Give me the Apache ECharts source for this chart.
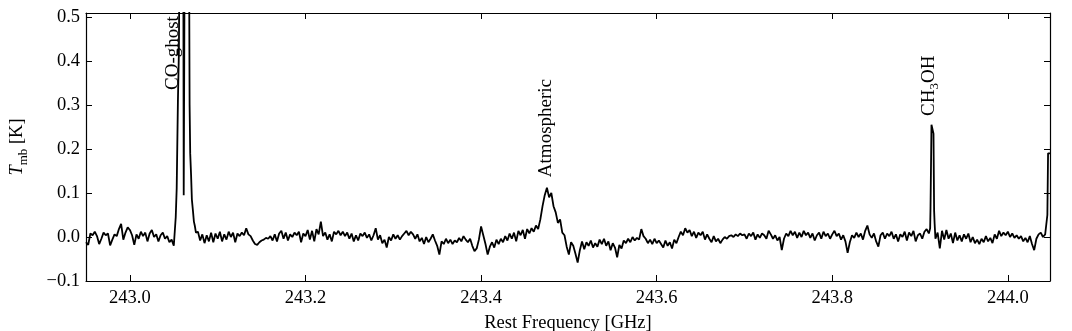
<!DOCTYPE html>
<html><head><meta charset="utf-8">
<script src="https://cdn.jsdelivr.net/npm/echarts@6/dist/echarts.min.js"></script>
<style>html,body{margin:0;padding:0;background:#fff}#c{width:1072px;height:331px}</style>
</head><body><div id="c"></div>
<script>
// Spectrum sampled on a regular channel grid (GHz, K)
const gridStart = 242.95;
const chanWidth = 0.0025;
const tmbGrid = [
-0.012,-0.018,0.008,0.004,0.012,0.002,-0.016,-0.004,0.010,0.004,
0.008,-0.019,-0.006,0.006,0.002,0.018,0.030,-0.006,0.010,0.022,
0.016,0.004,-0.018,0.006,-0.004,0.012,0.002,0.010,-0.010,0.008,
0.016,0.000,0.006,-0.010,0.004,0.010,-0.004,0.002,-0.012,-0.006,
-0.020,0.060,0.320,1.000,0.600,0.500,1.000,0.400,0.090,0.050,
0.020,0.012,-0.008,0.006,-0.014,0.004,-0.010,0.010,-0.012,0.008,
-0.004,0.012,-0.010,0.006,-0.006,0.012,0.000,0.010,-0.012,0.008,
0.002,0.010,0.004,0.020,0.006,0.002,-0.008,-0.016,-0.018,-0.012,
-0.008,-0.006,-0.002,-0.004,0.002,-0.008,0.006,-0.010,0.008,0.014,
-0.004,0.010,-0.008,0.006,0.000,0.010,0.004,0.012,-0.012,0.008,
0.002,0.016,-0.006,0.014,-0.010,0.018,0.006,0.035,0.002,0.010,
-0.006,0.006,-0.010,0.012,0.006,0.014,0.004,0.012,0.002,0.010,
-0.004,0.008,-0.010,0.004,-0.008,0.008,0.002,0.010,-0.002,0.006,
-0.008,0.004,0.020,-0.006,0.004,-0.014,-0.006,-0.024,0.000,-0.008,
0.006,-0.004,0.004,-0.006,0.002,0.008,0.014,0.004,0.012,0.006,
-0.004,0.006,-0.010,-0.002,-0.016,0.000,-0.012,-0.004,0.006,-0.008,
-0.020,-0.040,-0.010,-0.016,-0.004,-0.014,-0.006,-0.016,-0.008,-0.012,
-0.002,-0.010,0.002,-0.006,-0.012,-0.004,-0.020,-0.032,-0.026,-0.006,
0.024,0.004,-0.016,-0.040,-0.022,-0.012,-0.024,-0.006,-0.016,-0.004,
-0.012,0.002,-0.008,0.008,-0.004,0.010,-0.010,0.014,0.004,0.016,
-0.004,0.018,0.008,0.020,0.012,0.026,0.018,0.040,0.070,0.095,
0.112,0.090,0.100,0.070,0.056,0.032,0.040,0.010,0.004,-0.022,
-0.040,-0.012,-0.020,-0.038,-0.058,-0.030,-0.010,-0.028,-0.012,-0.020,
-0.008,-0.024,-0.014,-0.022,-0.006,-0.016,-0.004,-0.020,-0.010,-0.030,
-0.014,-0.024,-0.046,-0.018,-0.026,-0.008,-0.014,-0.004,-0.012,0.000,
-0.008,-0.002,-0.006,0.018,0.002,-0.004,-0.014,-0.006,-0.016,-0.004,
-0.014,-0.008,-0.016,-0.024,-0.008,-0.020,-0.012,-0.026,-0.006,-0.014,
0.000,0.012,0.004,0.020,0.010,0.016,0.002,0.012,-0.002,0.010,
0.004,0.012,-0.006,0.006,-0.004,-0.012,0.002,-0.010,-0.004,-0.014,
-0.006,0.000,-0.004,0.002,0.004,0.000,0.006,0.002,0.008,0.004,
0.006,-0.004,0.008,0.002,0.010,-0.006,0.006,-0.002,0.008,0.004,
-0.004,0.014,0.006,-0.004,0.004,-0.008,0.000,-0.030,-0.004,0.008,
0.002,0.014,0.004,0.012,-0.002,0.010,0.000,0.014,0.004,0.010,
-0.002,0.008,-0.008,0.004,0.010,-0.004,0.012,0.002,0.008,-0.004,
0.006,0.014,0.002,0.008,-0.006,0.004,-0.010,-0.036,-0.012,0.004,
-0.002,0.010,0.000,0.008,-0.006,0.014,0.026,0.006,-0.002,0.008,
-0.010,-0.022,0.004,0.010,-0.004,0.008,0.002,0.012,-0.004,0.006,
-0.010,0.006,0.000,0.012,-0.008,0.010,0.002,0.014,-0.010,0.004,
0.008,-0.004,0.012,0.018,0.008,0.250,0.220,-0.004,0.010,-0.026,
0.014,-0.006,0.016,-0.004,0.008,-0.014,0.010,-0.008,0.004,-0.010,
0.006,-0.004,0.008,-0.012,0.000,-0.014,-0.006,-0.016,-0.004,-0.012,
0.002,-0.010,-0.002,-0.014,0.006,-0.004,0.014,0.002,0.010,0.004,
0.012,0.000,0.008,-0.002,0.004,-0.004,0.002,-0.010,-0.002,-0.012,
0.002,-0.016,-0.030,-0.004,0.006,0.010,0.000,0.006
];
// Finer samples across the narrow features
const coFreq = [243.0513,243.0522,243.0533,243.0547,243.0558,243.0569,243.0582,243.0597,243.0608,243.0613,243.0619,243.0628,243.0643,243.0660,243.0673,243.0680,243.0687,243.0697,243.0706,243.0718,243.0729,243.0740,243.0752];
const coTmb  = [-0.018,0.045,0.11,0.31,0.42,0.80,1.10,1.00,0.70,0.095,0.40,0.95,1.10,1.00,0.70,0.30,0.19,0.14,0.085,0.060,0.035,0.025,0.010];
const ch3ohFreq = [243.9115,243.9119,243.9130,243.9140,243.9153,243.9160,243.9166];
const ch3ohTmb  = [0.020,0.065,0.255,0.252,0.235,0.060,0.030];
const edgeFreq = [244.0444,244.0450,244.0458,244.0480];
const edgeTmb  = [0.004,0.050,0.190,0.190];

const xTicks = [243.0,243.2,243.4,243.6,243.8,244.0];
const yTicks = [-0.1,0.0,0.1,0.2,0.3,0.4,0.5];
const lineLabels = [
  {rich:'CO-ghost', freq:243.049, tmb:0.334},
  {rich:'Atmospheric', freq:243.474, tmb:0.136},
  {rich:'{a|CH}{s|3}{a|OH}', freq:243.910, tmb:0.275}
];

const FONT = 'Liberation Serif';
const FS = 18.5;
const segments = [[coFreq,coTmb],[ch3ohFreq,ch3ohTmb],[edgeFreq,edgeTmb]];
let pts = [];
tmbGrid.forEach((v,i)=>{
  const f = gridStart + i*chanWidth;
  const inside = segments.some(([fs])=> f >= fs[0]-1e-9 && f <= fs[fs.length-1]+1e-9);
  if(!inside) pts.push([f,v]);
});
segments.forEach(([fs,ts])=>fs.forEach((f,k)=>pts.push([f,ts[k]])));
pts.sort((a,b)=>a[0]-b[0]);

const fmt = v => (v < -1e-9 ? '\u2212' : '') + Math.abs(v).toFixed(1);
const axisCommon = {
  axisLine:{show:true,onZero:false,lineStyle:{color:'#000',width:1.2}},
  splitLine:{show:false},
};
const chart = echarts.init(document.getElementById('c'));
const xMin = 242.95, xMax = 244.048, yMin = -0.1, yMax = 0.509;
chart.setOption({
  animation:false,
  grid:{left:86,right:22,top:13,bottom:50,containLabel:false,outerBoundsMode:'none'},
  xAxis:[
    Object.assign({type:'value',position:'bottom',min:xMin,max:xMax,
      axisTick:{show:true,inside:true,length:6,customValues:xTicks,lineStyle:{color:'#000'}},
      axisLabel:{show:true,customValues:xTicks,formatter:fmt,color:'#000',fontFamily:FONT,fontSize:FS,margin:8},
      name:'Rest Frequency [GHz]',nameLocation:'middle',nameGap:33,
      nameTextStyle:{color:'#000',fontFamily:FONT,fontSize:FS}},axisCommon),
    Object.assign({type:'value',position:'top',min:xMin,max:xMax,
      axisTick:{show:true,inside:true,length:6,customValues:xTicks,lineStyle:{color:'#000'}},
      axisLabel:{show:false}},axisCommon)
  ],
  yAxis:[
    Object.assign({type:'value',position:'left',min:yMin,max:yMax,
      axisTick:{show:true,inside:true,length:6,customValues:yTicks,lineStyle:{color:'#000'}},
      axisLabel:{show:true,customValues:yTicks,formatter:fmt,color:'#000',fontFamily:FONT,fontSize:FS,margin:6},
      name:'{i|T}{s|mb} [K]',nameLocation:'middle',nameGap:56,nameRotate:90,
      nameTextStyle:{color:'#000',fontFamily:FONT,fontSize:FS,
        rich:{i:{fontStyle:'italic',fontFamily:FONT,fontSize:FS,lineHeight:26,color:'#000'},
              s:{fontFamily:FONT,fontSize:13,lineHeight:13,verticalAlign:'bottom',color:'#000'}}}},axisCommon),
    Object.assign({type:'value',position:'right',min:yMin,max:yMax,
      axisTick:{show:true,inside:true,length:6,customValues:yTicks,lineStyle:{color:'#000'}},
      axisLabel:{show:false}},axisCommon)
  ],
  series:[{type:'line',xAxisIndex:0,yAxisIndex:0,data:pts,showSymbol:false,symbol:'none',
    clip:true,lineStyle:{color:'#000',width:1.8},z:3}]
});
const g = lineLabels.map(l=>{
  const p = chart.convertToPixel({xAxisIndex:0,yAxisIndex:0},[l.freq,l.tmb]);
  return {type:'text',x:p[0],y:p[1],rotation:Math.PI/2,z:10,
    style:{text:l.rich,fill:'#000',fontFamily:FONT,fontSize:19,align:'left',verticalAlign:'middle',
      rich:{a:{fontFamily:FONT,fontSize:19,lineHeight:24,fill:'#000'},
            s:{fontFamily:FONT,fontSize:13,lineHeight:13,verticalAlign:'bottom',fill:'#000'}}}};
});
chart.setOption({graphic:g});
</script></body></html>
